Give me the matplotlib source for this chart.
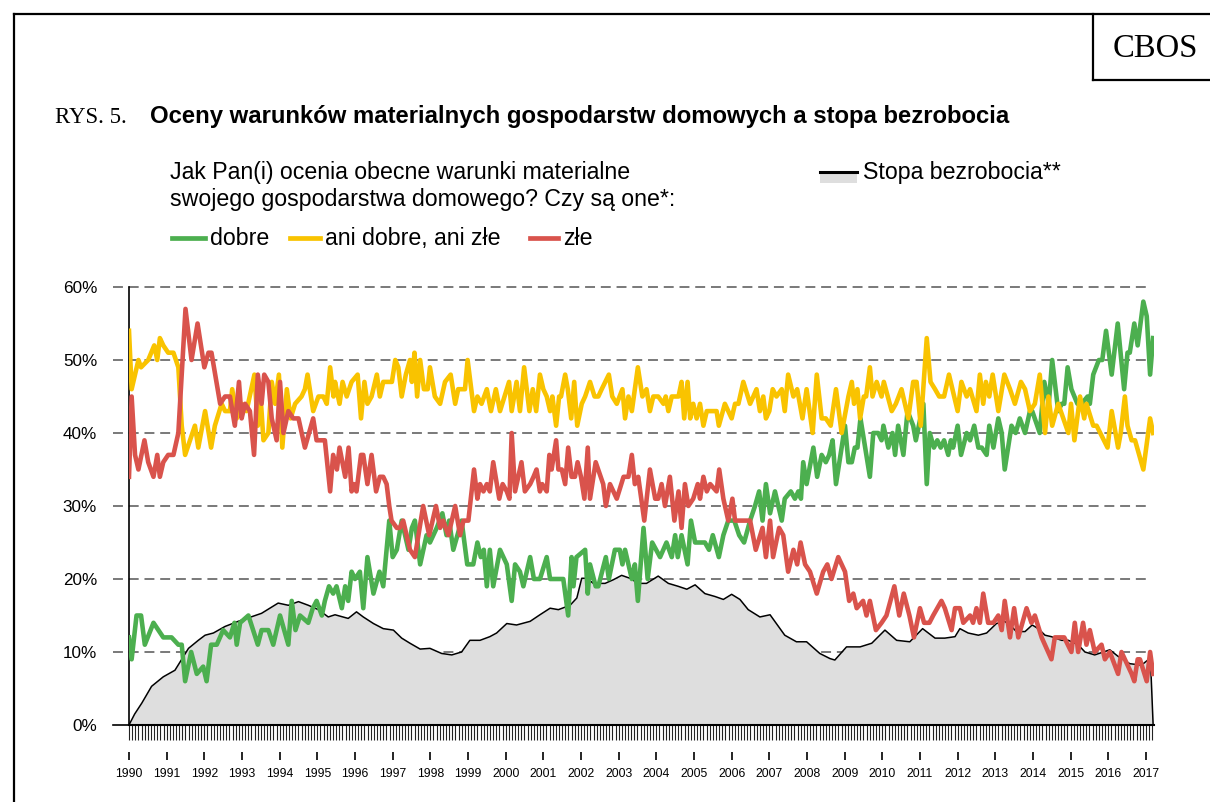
import matplotlib

matplotlib.use("Agg")
import matplotlib.pyplot as plt
from matplotlib.lines import Line2D
from matplotlib.patches import Rectangle
from matplotlib.ticker import FixedLocator, MultipleLocator

# survey readings: (decimal year, % of answers)
dobre = [
    (1990.00, 12), (1990.07, 9), (1990.20, 15), (1990.32, 15), (1990.42, 11), (1990.65, 14), (1990.78, 13),
    (1990.91, 12), (1991.13, 12), (1991.31, 11), (1991.40, 11), (1991.49, 6), (1991.65, 10), (1991.80, 7),
    (1991.97, 8), (1992.06, 6), (1992.18, 11), (1992.33, 11), (1992.50, 13), (1992.68, 12), (1992.80, 14),
    (1992.86, 11), (1992.95, 14), (1993.17, 15), (1993.42, 11), (1993.52, 13), (1993.70, 13), (1993.83, 11),
    (1994.01, 15), (1994.23, 11), (1994.32, 17), (1994.42, 13), (1994.54, 15), (1994.76, 14), (1994.88, 16),
    (1994.98, 17), (1995.12, 15), (1995.20, 17), (1995.31, 19), (1995.42, 18), (1995.51, 19), (1995.65, 16),
    (1995.74, 19), (1995.82, 17), (1995.91, 21), (1996.00, 20), (1996.13, 21), (1996.22, 16), (1996.33, 23),
    (1996.49, 18), (1996.65, 21), (1996.75, 19), (1996.91, 28), (1997.00, 23), (1997.11, 24), (1997.24, 28),
    (1997.42, 24), (1997.51, 27), (1997.59, 28), (1997.73, 22), (1997.90, 26), (1997.99, 25), (1998.17, 27),
    (1998.32, 29), (1998.43, 26), (1998.50, 28), (1998.61, 24), (1998.83, 28), (1998.98, 22), (1999.14, 22),
    (1999.25, 25), (1999.34, 23), (1999.42, 24), (1999.50, 19), (1999.58, 24), (1999.67, 19), (1999.85, 24),
    (2000.03, 22), (2000.16, 17), (2000.25, 22), (2000.38, 21), (2000.47, 19), (2000.65, 23), (2000.75, 20),
    (2000.91, 20), (2001.09, 23), (2001.18, 20), (2001.40, 20), (2001.53, 20), (2001.66, 15), (2001.75, 23),
    (2001.80, 19), (2001.88, 23), (2002.11, 24), (2002.18, 18), (2002.24, 22), (2002.39, 19), (2002.46, 19),
    (2002.66, 23), (2002.74, 20), (2002.90, 24), (2003.03, 24), (2003.10, 22), (2003.17, 24), (2003.35, 20),
    (2003.43, 22), (2003.51, 17), (2003.66, 27), (2003.77, 20), (2003.89, 25), (2004.10, 23), (2004.27, 25),
    (2004.41, 23), (2004.50, 26), (2004.57, 23), (2004.67, 26), (2004.83, 22), (2004.92, 28), (2005.03, 25),
    (2005.29, 25), (2005.40, 24), (2005.50, 26), (2005.66, 23), (2005.78, 26), (2005.91, 28), (2006.07, 28),
    (2006.20, 26), (2006.33, 25), (2006.49, 28), (2006.62, 30), (2006.73, 32), (2006.82, 28), (2006.91, 33),
    (2007.02, 29), (2007.15, 32), (2007.33, 28), (2007.41, 31), (2007.57, 32), (2007.68, 31), (2007.77, 32),
    (2007.84, 31), (2007.90, 36), (2007.99, 33), (2008.17, 38), (2008.27, 34), (2008.39, 37), (2008.50, 36),
    (2008.59, 37), (2008.68, 39), (2008.77, 33), (2008.89, 37), (2009.01, 41), (2009.10, 36), (2009.19, 36),
    (2009.27, 38), (2009.34, 38), (2009.42, 42), (2009.67, 34), (2009.76, 40), (2009.89, 40), (2009.98, 39),
    (2010.03, 41), (2010.16, 38), (2010.27, 40), (2010.34, 37), (2010.42, 41), (2010.56, 37), (2010.67, 43),
    (2010.82, 41), (2010.89, 39), (2011.09, 44), (2011.18, 33), (2011.26, 40), (2011.37, 38), (2011.46, 39),
    (2011.55, 38), (2011.64, 39), (2011.75, 37), (2011.82, 39), (2011.88, 38), (2012.00, 41), (2012.09, 37),
    (2012.24, 40), (2012.33, 39), (2012.44, 41), (2012.55, 38), (2012.64, 38), (2012.77, 37), (2012.84, 41),
    (2012.95, 38), (2013.08, 42), (2013.17, 40), (2013.25, 35), (2013.43, 41), (2013.54, 40), (2013.65, 42),
    (2013.79, 40), (2013.92, 43), (2013.98, 43), (2014.18, 40), (2014.30, 47), (2014.42, 44), (2014.51, 50),
    (2014.67, 43), (2014.76, 44), (2014.83, 44), (2014.92, 49), (2015.02, 46), (2015.18, 44), (2015.29, 44),
    (2015.45, 45), (2015.51, 44), (2015.60, 48), (2015.75, 50), (2015.84, 50), (2015.94, 54), (2016.09, 48),
    (2016.25, 55), (2016.42, 46), (2016.51, 51), (2016.57, 51), (2016.69, 55), (2016.78, 52), (2016.93, 58),
    (2017.02, 56), (2017.11, 48), (2017.19, 53),
]

ani_dobre_ani_zle = [
    (1990.00, 54), (1990.07, 46), (1990.25, 50), (1990.32, 49), (1990.51, 50), (1990.67, 52), (1990.75, 50),
    (1990.82, 53), (1990.91, 52), (1991.04, 51), (1991.18, 51), (1991.31, 49), (1991.40, 41), (1991.49, 37),
    (1991.62, 39), (1991.75, 41), (1991.84, 38), (1992.02, 43), (1992.18, 38), (1992.28, 41), (1992.46, 44),
    (1992.55, 43), (1992.68, 43), (1992.74, 46), (1992.86, 42), (1992.99, 44), (1993.12, 43), (1993.33, 48),
    (1993.42, 41), (1993.48, 46), (1993.57, 39), (1993.70, 40), (1993.79, 47), (1993.88, 44), (1993.98, 48),
    (1994.07, 38), (1994.19, 46), (1994.29, 42), (1994.41, 44), (1994.58, 45), (1994.67, 46), (1994.74, 48),
    (1994.89, 43), (1995.03, 45), (1995.16, 45), (1995.25, 44), (1995.34, 49), (1995.43, 45), (1995.47, 47),
    (1995.59, 44), (1995.67, 47), (1995.78, 45), (1995.91, 47), (1996.07, 48), (1996.16, 42), (1996.25, 47),
    (1996.33, 44), (1996.44, 45), (1996.58, 48), (1996.66, 45), (1996.75, 47), (1996.98, 47), (1997.07, 50),
    (1997.15, 49), (1997.24, 45), (1997.35, 48), (1997.46, 50), (1997.51, 47), (1997.58, 51), (1997.65, 45),
    (1997.73, 50), (1997.83, 46), (1997.93, 46), (1997.99, 49), (1998.12, 45), (1998.26, 44), (1998.39, 47),
    (1998.54, 48), (1998.66, 44), (1998.74, 46), (1998.92, 46), (1998.99, 50), (1999.16, 43), (1999.25, 45),
    (1999.36, 44), (1999.50, 46), (1999.61, 43), (1999.74, 46), (1999.85, 43), (2000.09, 47), (2000.16, 43),
    (2000.29, 47), (2000.38, 43), (2000.49, 49), (2000.63, 43), (2000.72, 46), (2000.81, 43), (2000.91, 48),
    (2001.00, 46), (2001.09, 45), (2001.18, 43), (2001.24, 45), (2001.34, 41), (2001.42, 45), (2001.47, 45),
    (2001.58, 48), (2001.65, 46), (2001.74, 42), (2001.82, 47), (2001.90, 41), (2002.02, 44), (2002.11, 45),
    (2002.24, 47), (2002.36, 45), (2002.46, 45), (2002.55, 46), (2002.74, 48), (2002.83, 45), (2002.95, 44),
    (2003.10, 46), (2003.17, 42), (2003.26, 45), (2003.35, 43), (2003.43, 46), (2003.51, 49), (2003.63, 45),
    (2003.74, 46), (2003.83, 43), (2003.92, 45), (2004.05, 45), (2004.19, 44), (2004.25, 45), (2004.32, 43),
    (2004.41, 45), (2004.59, 45), (2004.67, 47), (2004.74, 42), (2004.83, 47), (2004.90, 42), (2004.98, 44),
    (2005.07, 42), (2005.16, 44), (2005.25, 41), (2005.34, 43), (2005.60, 43), (2005.66, 41), (2005.82, 44),
    (2006.00, 42), (2006.09, 44), (2006.18, 44), (2006.31, 47), (2006.49, 44), (2006.66, 46), (2006.75, 43),
    (2006.84, 45), (2006.91, 42), (2007.00, 43), (2007.09, 46), (2007.19, 45), (2007.33, 46), (2007.41, 43),
    (2007.50, 48), (2007.64, 45), (2007.74, 46), (2007.88, 42), (2007.99, 46), (2008.15, 40), (2008.26, 48),
    (2008.39, 42), (2008.50, 42), (2008.63, 41), (2008.77, 46), (2008.92, 40), (2009.10, 45), (2009.19, 47),
    (2009.25, 44), (2009.34, 46), (2009.41, 42), (2009.51, 45), (2009.57, 45), (2009.67, 49), (2009.74, 45),
    (2009.85, 47), (2009.98, 45), (2010.04, 47), (2010.25, 43), (2010.36, 44), (2010.51, 46), (2010.69, 42),
    (2010.82, 47), (2010.91, 47), (2011.02, 41), (2011.18, 53), (2011.28, 47), (2011.40, 46), (2011.51, 45),
    (2011.64, 45), (2011.77, 48), (2012.00, 43), (2012.10, 47), (2012.24, 45), (2012.33, 46), (2012.50, 43),
    (2012.59, 48), (2012.68, 44), (2012.75, 47), (2012.84, 45), (2012.93, 48), (2013.08, 43), (2013.24, 48),
    (2013.39, 46), (2013.52, 44), (2013.68, 47), (2013.79, 46), (2013.92, 43), (2014.05, 44), (2014.18, 48),
    (2014.32, 40), (2014.41, 45), (2014.51, 41), (2014.67, 44), (2014.94, 40), (2015.01, 44), (2015.10, 39),
    (2015.25, 45), (2015.36, 42), (2015.42, 44), (2015.60, 41), (2015.69, 41), (2015.98, 38), (2016.09, 43),
    (2016.26, 38), (2016.33, 40), (2016.44, 45), (2016.51, 41), (2016.62, 39), (2016.71, 39), (2016.93, 35),
    (2017.11, 42), (2017.19, 40),
]

zle = [
    (1990.00, 34), (1990.07, 45), (1990.16, 37), (1990.25, 35), (1990.41, 39), (1990.51, 36), (1990.65, 34),
    (1990.75, 37), (1990.82, 34), (1990.91, 36), (1991.04, 37), (1991.18, 37), (1991.31, 40), (1991.50, 57),
    (1991.66, 50), (1991.82, 55), (1992.00, 49), (1992.11, 51), (1992.19, 51), (1992.42, 44), (1992.55, 45),
    (1992.68, 45), (1992.81, 41), (1992.92, 47), (1992.99, 42), (1993.08, 44), (1993.21, 43), (1993.32, 37),
    (1993.42, 48), (1993.52, 44), (1993.59, 48), (1993.70, 47), (1993.79, 42), (1993.92, 39), (1994.01, 47),
    (1994.10, 40), (1994.23, 43), (1994.36, 42), (1994.50, 42), (1994.67, 38), (1994.89, 42), (1994.98, 39),
    (1995.20, 39), (1995.34, 32), (1995.42, 37), (1995.52, 35), (1995.59, 38), (1995.74, 34), (1995.83, 38),
    (1995.91, 32), (1995.97, 33), (1996.04, 32), (1996.16, 37), (1996.22, 37), (1996.33, 33), (1996.44, 37),
    (1996.56, 32), (1996.66, 34), (1996.75, 34), (1996.84, 33), (1996.91, 30), (1996.97, 28), (1997.11, 27),
    (1997.19, 27), (1997.28, 28), (1997.46, 24), (1997.59, 23), (1997.81, 30), (1997.97, 26), (1998.15, 30),
    (1998.26, 27), (1998.34, 28), (1998.48, 26), (1998.66, 30), (1998.79, 26), (1998.88, 28), (1999.01, 28),
    (1999.16, 35), (1999.25, 31), (1999.32, 33), (1999.41, 32), (1999.50, 33), (1999.58, 32), (1999.67, 36),
    (1999.83, 31), (1999.92, 33), (2000.03, 32), (2000.10, 31), (2000.16, 40), (2000.25, 32), (2000.42, 36),
    (2000.51, 32), (2000.65, 33), (2000.74, 34), (2000.82, 35), (2000.91, 32), (2000.97, 33), (2001.09, 32),
    (2001.16, 37), (2001.22, 35), (2001.34, 39), (2001.40, 35), (2001.49, 35), (2001.58, 33), (2001.66, 38),
    (2001.75, 34), (2001.84, 34), (2001.91, 36), (2002.00, 34), (2002.09, 31), (2002.18, 38), (2002.24, 31),
    (2002.39, 36), (2002.59, 33), (2002.66, 30), (2002.77, 33), (2002.86, 32), (2002.95, 31), (2003.13, 34),
    (2003.26, 34), (2003.35, 37), (2003.43, 33), (2003.52, 34), (2003.68, 28), (2003.83, 35), (2003.97, 31),
    (2004.05, 31), (2004.14, 33), (2004.23, 30), (2004.36, 34), (2004.48, 28), (2004.59, 32), (2004.67, 27),
    (2004.76, 33), (2004.85, 30), (2004.98, 31), (2005.10, 33), (2005.16, 31), (2005.25, 34), (2005.34, 32),
    (2005.43, 33), (2005.60, 32), (2005.67, 35), (2005.78, 31), (2005.91, 28), (2006.02, 31), (2006.09, 28),
    (2006.36, 28), (2006.49, 28), (2006.64, 24), (2006.82, 27), (2006.91, 23), (2007.02, 28), (2007.10, 23),
    (2007.26, 27), (2007.37, 26), (2007.50, 21), (2007.64, 24), (2007.74, 22), (2007.83, 25), (2007.95, 22),
    (2008.08, 21), (2008.26, 18), (2008.43, 21), (2008.54, 22), (2008.65, 20), (2008.83, 23), (2009.01, 21),
    (2009.12, 17), (2009.23, 18), (2009.32, 16), (2009.49, 17), (2009.58, 15), (2009.67, 17), (2009.83, 13),
    (2009.98, 14), (2010.11, 15), (2010.32, 19), (2010.45, 15), (2010.57, 18), (2010.72, 15), (2010.84, 12),
    (2011.00, 16), (2011.11, 14), (2011.25, 14), (2011.35, 15), (2011.57, 17), (2011.66, 16), (2011.84, 13),
    (2011.93, 16), (2012.06, 16), (2012.15, 14), (2012.33, 15), (2012.41, 14), (2012.50, 16), (2012.59, 14),
    (2012.68, 18), (2012.81, 14), (2012.95, 14), (2013.08, 15), (2013.17, 13), (2013.25, 17), (2013.39, 12),
    (2013.50, 16), (2013.61, 12), (2013.83, 16), (2013.96, 14), (2014.05, 15), (2014.23, 12), (2014.49, 9),
    (2014.58, 12), (2014.83, 12), (2015.02, 10), (2015.11, 14), (2015.20, 10), (2015.33, 14), (2015.42, 11),
    (2015.51, 13), (2015.64, 10), (2015.82, 11), (2015.91, 9), (2016.04, 10), (2016.26, 7), (2016.35, 10),
    (2016.62, 7), (2016.69, 6), (2016.78, 9), (2016.84, 9), (2017.02, 6), (2017.11, 10), (2017.19, 7),
]

# registered unemployment rate, %
stopa_bezrobocia = [
    (1990.00, 0.0), (1990.15, 1.5), (1990.34, 3.0), (1990.60, 5.3), (1990.91, 6.6), (1991.22, 7.5),
    (1991.58, 10.5), (1991.84, 11.6), (1992.02, 12.3), (1992.24, 12.6), (1992.55, 13.5), (1992.90, 14.2),
    (1993.52, 15.3), (1993.96, 16.7), (1994.23, 16.4), (1994.50, 16.9), (1994.76, 16.4), (1995.03, 15.8),
    (1995.29, 14.8), (1995.47, 15.1), (1995.82, 14.6), (1996.04, 15.5), (1996.22, 14.8), (1996.49, 13.9),
    (1996.75, 13.2), (1997.02, 13.0), (1997.24, 11.9), (1997.46, 11.2), (1997.73, 10.4), (1997.99, 10.5),
    (1998.30, 9.8), (1998.57, 9.6), (1998.83, 10.0), (1999.05, 11.6), (1999.32, 11.6), (1999.58, 12.1),
    (1999.76, 12.6), (2000.03, 13.9), (2000.29, 13.7), (2000.65, 14.2), (2000.91, 15.1), (2001.18, 16.0),
    (2001.40, 15.8), (2001.71, 16.4), (2001.89, 17.4), (2002.02, 20.1), (2002.15, 20.1), (2002.33, 19.4),
    (2002.64, 19.4), (2002.86, 19.9), (2003.08, 20.5), (2003.30, 20.1), (2003.52, 19.4), (2003.74, 19.4),
    (2004.05, 20.4), (2004.32, 19.4), (2004.58, 19.0), (2004.81, 18.6), (2005.03, 19.2), (2005.29, 18.0),
    (2005.56, 17.6), (2005.78, 17.2), (2006.00, 17.9), (2006.22, 17.2), (2006.44, 15.8), (2006.75, 14.8),
    (2007.02, 15.1), (2007.41, 12.3), (2007.72, 11.4), (2007.99, 11.4), (2008.34, 9.8), (2008.61, 9.1),
    (2008.74, 8.9), (2009.05, 10.7), (2009.41, 10.7), (2009.72, 11.2), (2010.07, 13.0), (2010.38, 11.6),
    (2010.73, 11.4), (2011.07, 13.2), (2011.40, 11.9), (2011.66, 11.9), (2011.93, 12.1), (2012.06, 13.2),
    (2012.28, 12.6), (2012.55, 12.3), (2012.77, 12.6), (2013.03, 13.9), (2013.25, 14.2), (2013.43, 13.5),
    (2013.56, 12.8), (2013.79, 12.8), (2013.98, 13.7), (2014.14, 13.2), (2014.32, 12.3), (2014.49, 12.1),
    (2014.76, 11.6), (2014.94, 11.6), (2015.20, 11.0), (2015.38, 10.0), (2015.64, 9.6), (2016.04, 10.3),
    (2016.26, 9.4), (2016.57, 8.4), (2016.88, 8.2), (2017.05, 8.9), (2017.12, 8.9), (2017.19, 0.0),
]

years = list(range(1990, 2018))
y_ticks = [0, 10, 20, 30, 40, 50, 60]
y_labels = ["0%", "10%", "20%", "30%", "40%", "50%", "60%"]

GREEN = "#4caf4f"
YELLOW = "#f9c300"
RED = "#d9534c"
SANS = ["Liberation Sans", "DejaVu Sans"]
SERIF = ["Liberation Serif", "DejaVu Serif"]

W, H = 1210, 802
fig = plt.figure(figsize=(W / 100, H / 100), dpi=100)


def fx(x):
    return x / W


def fy(y):
    return 1 - y / H


ax = fig.add_axes([fx(129), fy(725), (1153.5 - 129) / W, (725 - 287) / H])

bx, by = zip(*stopa_bezrobocia)
ax.fill_between(bx, by, 0, color="#dedede", lw=0, zorder=1)
ax.plot(bx, by, color="black", lw=1.1, zorder=2)
for series, color in [(dobre, GREEN), (ani_dobre_ani_zle, YELLOW), (zle, RED)]:
    sx, sy = zip(*series)
    ax.plot(sx, sy, color=color, lw=3.3, solid_joinstyle="round", zorder=3)

ax.set_xlim(1990, 2017.2)
ax.set_ylim(0, 60)

# dashed gridlines reaching a bit left of the axis
for value in y_ticks[1:]:
    ax.plot([-0.0156, 0.9965], [value, value], transform=ax.get_yaxis_transform(), color="#555555",
            lw=1.1, dashes=(6.5, 3.8), clip_on=False, zorder=0.5)
ax.plot([-0.0156, 0], [0, 0], transform=ax.get_yaxis_transform(), color="black", lw=1.2, clip_on=False)

for side in ("top", "right"):
    ax.spines[side].set_visible(False)
ax.spines["left"].set_linewidth(1.2)
ax.spines["bottom"].set_linewidth(1.5)

ax.set_yticks(y_ticks)
ax.set_yticklabels(y_labels, fontsize=12.3, family=SANS)
ax.tick_params(axis="y", length=0, pad=23)

ax.xaxis.set_major_locator(FixedLocator(years))
ax.xaxis.set_minor_locator(MultipleLocator(1 / 12))
ax.xaxis.remove_overlapping_locs = False
ax.set_xticklabels([str(y) for y in years], fontsize=8.8, family=SANS)
ax.tick_params(axis="x", which="major", length=0, pad=31)
ax.tick_params(axis="x", which="minor", length=11, width=0.8, color="#222222")
ax.vlines(years, -0.062, -0.080, transform=ax.get_xaxis_transform(), color="black", lw=1.2, clip_on=False)

# frame and CBOS box
frame = dict(color="black", lw=1.6, transform=fig.transFigure)
fig.add_artist(Line2D([fx(14), 1], [fy(14), fy(14)], **frame))
fig.add_artist(Line2D([fx(14), fx(14)], [fy(14), 0], **frame))
fig.add_artist(Line2D([fx(1093), fx(1093)], [fy(14), fy(80)], **frame))
fig.add_artist(Line2D([fx(1093), 1], [fy(80), fy(80)], **frame))
fig.text(fx(1155), fy(57), "CBOS", fontsize=23.5, family=SERIF, ha="center", va="baseline")

fig.text(fx(55), fy(123), "RYS. 5.", fontsize=16.5, family=SERIF, va="baseline")
fig.text(fx(150), fy(123), "Oceny warunków materialnych gospodarstw domowych a stopa bezrobocia",
         fontsize=17.2, family=SANS, weight="bold", va="baseline")

fig.text(fx(170), fy(179), "Jak Pan(i) ocenia obecne warunki materialne", fontsize=16.7, family=SANS,
         va="baseline")
fig.text(fx(170), fy(206), "swojego gospodarstwa domowego? Czy są one*:", fontsize=16.7, family=SANS,
         va="baseline")

for x0, x1, tx, label, color in [
    (172, 205, 210, "dobre", GREEN),
    (290, 320, 325, "ani dobre, ani złe", YELLOW),
    (530, 558, 563, "złe", RED),
]:
    fig.add_artist(Line2D([fx(x0), fx(x1)], [fy(238), fy(238)], color=color, lw=3.4,
                          transform=fig.transFigure))
    fig.text(fx(tx), fy(245), label, fontsize=16.7, family=SANS, va="baseline")

fig.add_artist(Rectangle((fx(820), fy(183)), fx(37), (183 - 172) / H, facecolor="#dedede", lw=0,
                         transform=fig.transFigure))
fig.add_artist(Line2D([fx(820), fx(857)], [fy(172), fy(172)], color="black", lw=2.2,
                      transform=fig.transFigure))
fig.text(fx(863), fy(179), "Stopa bezrobocia**", fontsize=16.7, family=SANS, va="baseline")

fig.savefig("out.png", dpi=100)
